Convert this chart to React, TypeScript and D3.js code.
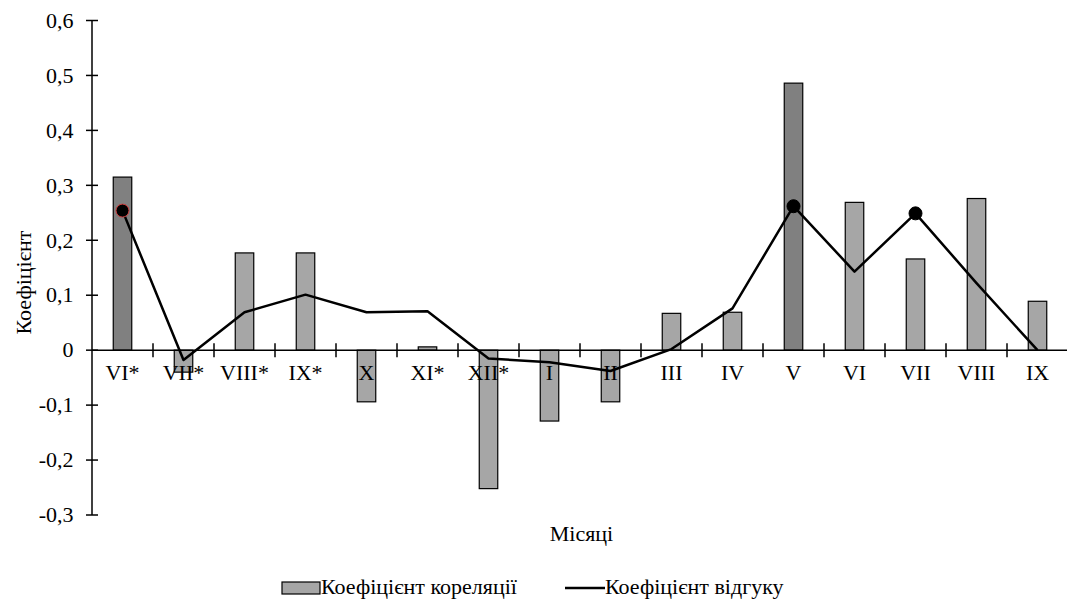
import React from "react";
import * as d3 from "d3";

const months = ["VI*", "VII*", "VIII*", "IX*", "X", "XI*", "XII*", "I", "II", "III", "IV", "V", "VI", "VII", "VIII", "IX"];
const correlation = [0.315, -0.04, 0.177, 0.177, -0.094, 0.006, -0.252, -0.129, -0.094, 0.067, 0.069, 0.486, 0.269, 0.166, 0.276, 0.089];
const response = [0.254, -0.018, 0.069, 0.101, 0.069, 0.071, -0.015, -0.022, -0.038, 0.002, 0.076, 0.262, 0.143, 0.249, 0.122, 0.0];
const highlighted = ["VI*", "V"];
const markedPoints = ["VI*", "V", "VII"];
const yTicks = [-0.3, -0.2, -0.1, 0, 0.1, 0.2, 0.3, 0.4, 0.5, 0.6];

const W = 1067;
const H = 600;
const left = 92;
const right = 1068;
const top = 20.5;
const bottom = 515;
const font = '"Liberation Serif"';
const FS = 22;

export default function App() {
  const x = d3.scaleBand<string>().domain(months).range([left, right]).paddingInner(0).paddingOuter(0);
  const y = d3.scaleLinear().domain([-0.3, 0.6]).range([bottom, top]);
  const bw = 18.5;
  const fmt = (v: number) => (v === 0 ? "0" : d3.format(".1f")(v).replace(".", ",").replace("−", "-"));
  const line = d3
    .line<number>()
    .x((_, i) => (x(months[i]) as number) + x.bandwidth() / 2)
    .y((d) => y(d));
  const y0 = y(0);
  const ts = { fontFamily: font };
  return (
    <svg width={W} height={H} style={{ position: "absolute", left: 0, top: 0, background: "#fff" }}>
      {months.map((m, i) => {
        const v = correlation[i];
        const cx = (x(m) as number) + x.bandwidth() / 2;
        return (
          <rect
            key={m}
            x={cx - bw / 2}
            y={Math.min(y(v), y0)}
            width={bw}
            height={Math.abs(y(v) - y0)}
            fill={highlighted.includes(m) ? "#808080" : "#a6a6a6"}
            stroke="#000"
            strokeWidth={1.2}
          />
        );
      })}
      <line x1={left} x2={W} y1={y0} y2={y0} stroke="#000" strokeWidth={1.5} />
      {months.slice(1).map((m) => (
        <line key={"t" + m} x1={x(m) as number} x2={x(m) as number} y1={y0 - 7} y2={y0 + 7} stroke="#000" strokeWidth={1.5} />
      ))}
      <line x1={left} x2={left} y1={top} y2={bottom} stroke="#000" strokeWidth={1.5} />
      {yTicks.map((t) => (
        <g key={"y" + t}>
          <line x1={left - 6} x2={left + 6} y1={y(t)} y2={y(t)} stroke="#000" strokeWidth={1.5} />
          <text x={left - 18.5} y={y(t)} dy="0.33em" textAnchor="end" fontSize={FS} fill="#000" style={ts}>
            {fmt(t)}
          </text>
        </g>
      ))}
      {months.map((m) => (
        <text key={"l" + m} x={(x(m) as number) + x.bandwidth() / 2} y={y0 + 30} textAnchor="middle" fontSize={FS} fill="#000" style={ts}>
          {m}
        </text>
      ))}
      <path d={line(response) || ""} fill="none" stroke="#000" strokeWidth={2.5} strokeLinejoin="round" />
      {months.map((m, i) =>
        markedPoints.includes(m) ? (
          <circle
            key={"c" + m}
            cx={(x(m) as number) + x.bandwidth() / 2}
            cy={y(response[i])}
            r={6.5}
            fill="#000"
            stroke={m === "VI*" ? "#d04040" : "#000"}
            strokeWidth={1}
          />
        ) : null
      )}
      <text transform={`translate(31,282.5) rotate(-90)`} textAnchor="middle" fontSize={FS} fill="#000" style={ts}>
        Коефіцієнт
      </text>
      <text x={581.5} y={541} textAnchor="middle" fontSize={FS} fill="#000" style={ts}>
        Місяці
      </text>
      <rect x={282} y={582} width={38} height={12} fill="#a6a6a6" stroke="#000" strokeWidth={1.2} />
      <text x={321} y={594} fontSize={FS} fill="#000" style={ts}>
        Коефіцієнт кореляції
      </text>
      <line x1={565} x2={605} y1={588} y2={588} stroke="#000" strokeWidth={2.5} />
      <text x={605} y={594} fontSize={FS} fill="#000" style={ts}>
        Коефіцієнт відгуку
      </text>
    </svg>
  );
}
